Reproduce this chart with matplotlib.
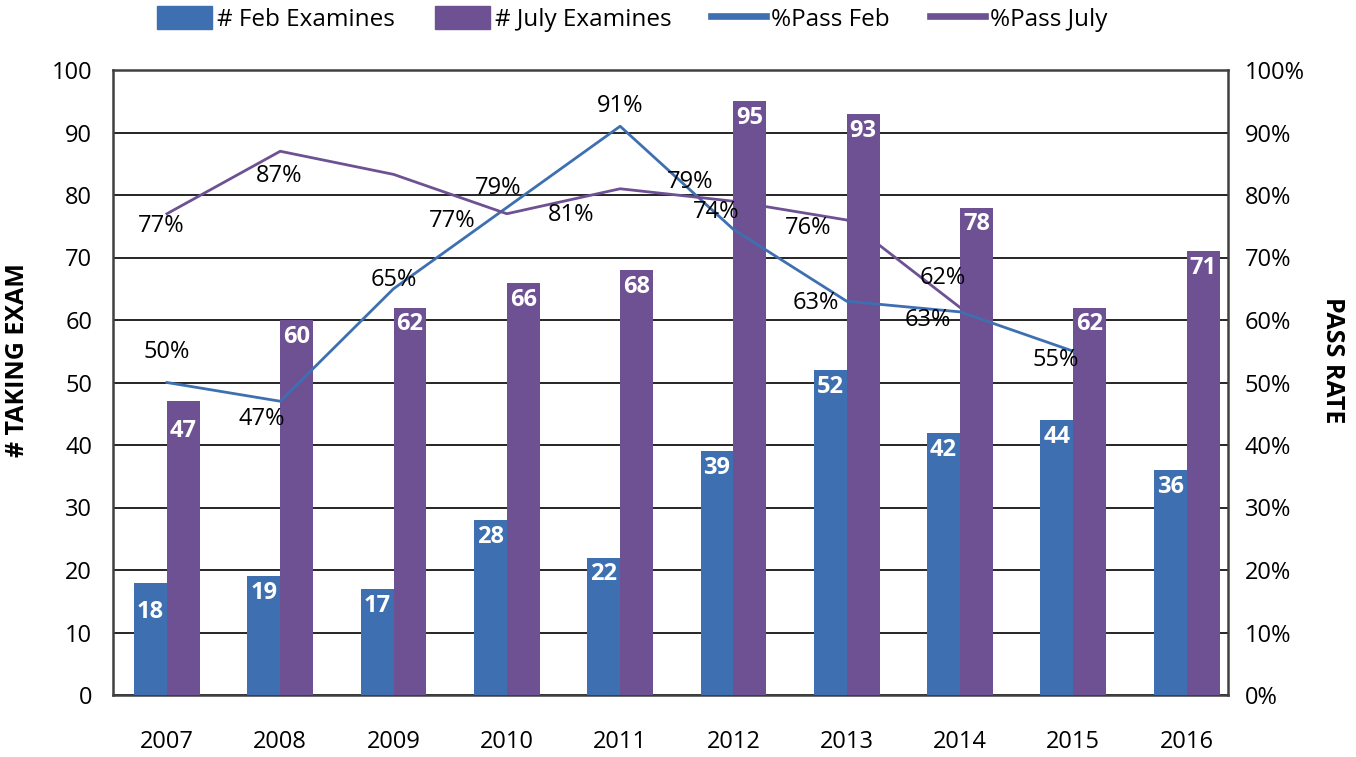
import numpy as np
import matplotlib.pyplot as plt
from matplotlib.patches import Patch
from matplotlib.lines import Line2D

plt.rcParams['font.family'] = ['Open Sans', 'DejaVu Sans']

years = ['2007', '2008', '2009', '2010', '2011', '2012', '2013', '2014', '2015', '2016']
feb_examinees = [18, 19, 17, 28, 22, 39, 52, 42, 44, 36]
july_examinees = [47, 60, 62, 66, 68, 95, 93, 78, 62, 71]

# pass rates (%), None where the line stops
feb_pass = [50, 47, 65, 78, 91, 74.5, 63, 61.3, 55, None]
july_pass = [77, 87, 83.3, 77, 81, 79, 76, 62, None, None]
# the data label texts printed next to the lines
feb_pass_labels = ['50%', '47%', '65%', '79%', '91%', '74%', '63%', '63%', '55%']
july_pass_labels = ['77%', '87%', '', '77%', '81%', '79%', '76%', '62%']

# label offsets in pixels (dx, dy) from each line point
feb_offsets = [(0, 31), (-18, -18), (0, 9), (-9, 20), (0, 20), (-17, 17), (-31, -2), (-32, -8), (-18, -9)]
july_offsets = [(-6, -12), (-1, -25), (0, 0), (-55, -7), (-49, -26), (-43, 19), (-39, -8), (-17, 30)]

blue = '#3D6FB1'
purple = '#6E5192'

fig = plt.figure(figsize=(13.56, 7.57), dpi=100)
ax = fig.add_axes([113 / 1356, 62 / 757, 1115 / 1356, 625 / 757])
ax2 = ax.twinx()

x = np.arange(len(years))
w = 0.29
ax.bar(x - w / 2, feb_examinees, width=w, color=blue, zorder=3)
ax.bar(x + w / 2, july_examinees, width=w, color=purple, zorder=3)

for i in range(len(years)):
    drop = 30 if i == 0 else 17
    ax.annotate(str(feb_examinees[i]), (x[i] - w / 2, feb_examinees[i]), xytext=(0, -drop),
                textcoords='offset pixels', ha='center', va='center', color='white',
                fontsize=17, fontweight='bold', zorder=5)
    ax.annotate(str(july_examinees[i]), (x[i] + w / 2, july_examinees[i]), xytext=(0, -drop),
                textcoords='offset pixels', ha='center', va='center', color='white',
                fontsize=17, fontweight='bold', zorder=5)

ax.set_ylim(0, 100)
ax.set_xlim(-0.476, 9.365)
ax.set_yticks(np.arange(0, 101, 10))
ax.set_xticks(x)
ax.set_xticklabels(years)
ax.grid(axis='y', color='black', lw=1.2, zorder=1)
ax.set_axisbelow(True)
ax.tick_params(axis='y', length=0, labelsize=17, pad=15)
ax.tick_params(axis='x', length=0, labelsize=17, pad=25)
for s in ['left', 'right', 'bottom', 'top']:
    ax.spines[s].set_color('#404040')
    ax.spines[s].set_linewidth(1.8)

# pass rate lines on the right axis
fx = [i for i, v in enumerate(feb_pass) if v is not None]
fv = [feb_pass[i] for i in fx]
jx = [i for i, v in enumerate(july_pass) if v is not None]
jv = [july_pass[i] for i in jx]
ax2.plot(fx, fv, color=blue, lw=2, zorder=4)
ax2.plot(jx, jv, color=purple, lw=2, zorder=4)
for i, v in zip(fx, fv):
    ax2.annotate(feb_pass_labels[i], (i, v), xytext=feb_offsets[i], textcoords='offset pixels',
                 ha='center', va='center', fontsize=17, color='black', zorder=6)
for i, v in zip(jx, jv):
    if july_pass_labels[i]:
        ax2.annotate(july_pass_labels[i], (i, v), xytext=july_offsets[i], textcoords='offset pixels',
                     ha='center', va='center', fontsize=17, color='black', zorder=6)

ax2.set_ylim(0, 100)
ax2.set_yticks(np.arange(0, 101, 10))
ax2.set_yticklabels([f'{t}%' for t in range(0, 101, 10)])
ax2.tick_params(axis='y', length=0, labelsize=17, pad=12)
for s in ax2.spines.values():
    s.set_visible(False)

fig.text(18 / 1356, 1 - 360 / 757, '# TAKING EXAM', rotation=90, ha='center', va='center',
         fontsize=18, fontweight='bold')
fig.text(1333 / 1356, 1 - 360 / 757, 'PASS RATE', rotation=-90, ha='center', va='center',
         fontsize=18, fontweight='bold')

handles = [Patch(color=blue), Patch(color=purple),
           Line2D([], [], color=blue, lw=4.8), Line2D([], [], color=purple, lw=4.8)]
labels = ['# Feb Examines', '# July Examines', '%Pass Feb', '%Pass July']
fig.legend(handles, labels, loc='center', bbox_to_anchor=(632 / 1356, 1 - 19 / 757), ncol=4,
           frameon=False, fontsize=17.5, handlelength=2.26, handleheight=1.05, handletextpad=0.2,
           columnspacing=1.65, borderpad=0)

fig.savefig('out.png', dpi=100)
